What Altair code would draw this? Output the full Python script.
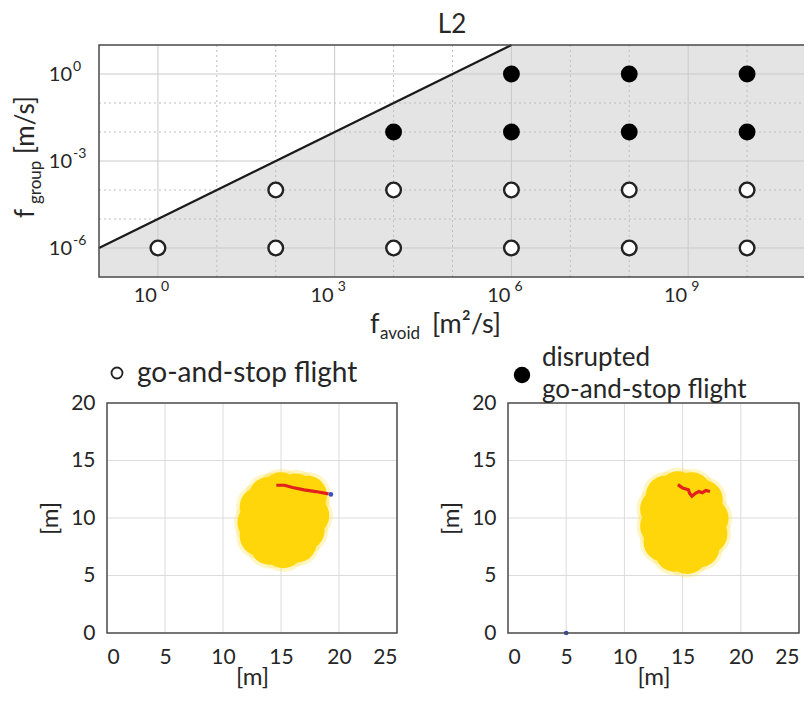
import altair as alt
import pandas as pd

FONT = "Lato"
TXT = "#262626"
W, H = 796, 685

# ---------------- top panel data ----------------
open_favoid = [1e0, 1e2, 1e4, 1e6, 1e8, 1e10, 1e2, 1e4, 1e6, 1e8, 1e10]
open_fgroup = [1e-6, 1e-6, 1e-6, 1e-6, 1e-6, 1e-6, 1e-4, 1e-4, 1e-4, 1e-4, 1e-4]
filled_favoid = [1e4, 1e6, 1e8, 1e10, 1e6, 1e8, 1e10]
filled_fgroup = [1e-2, 1e-2, 1e-2, 1e-2, 1e0, 1e0, 1e0]
line_favoid = [1e-1, 1e6]
line_fgroup = [1e-6, 1e1]
shade_favoid = [1e-1, 1e6, 1e11]
shade_fgroup = [1e-6, 1e1, 1e1]
favoid_domain = [1e-1, 1e11]
fgroup_domain = [1e-7, 1e1]
favoid_major = [1e0, 1e3, 1e6, 1e9]
favoid_minor = [1e1, 1e2, 1e4, 1e5, 1e7, 1e8, 1e10]
fgroup_major = [1e0, 1e-3, 1e-6]
fgroup_minor = [1e-1, 1e-2, 1e-4, 1e-5]
favoid_tick_exp = ["0", "3", "6", "9"]
fgroup_tick_exp = ["0", "-3", "-6"]

# ---------------- bottom panels data ----------------
m_xdomain = [0, 25]
m_ydomain = [0, 20]
m_xticks = [0, 5, 10, 15, 20, 25]
m_yticks = [0, 5, 10, 15, 20]
m_xgrid = [5, 10, 15, 20]
m_ygrid = [5, 10, 15]

left_swarm_x = [15.0, 13.9, 16.3, 17.2, 13.1, 12.9, 13.1, 14.0, 15.2, 16.4, 17.1, 17.5, 14.3, 15.5, 16.2, 14.5, 15.8, 17.3, 14.6]
left_swarm_y = [12.3, 11.9, 12.2, 11.4, 11.0, 9.6, 8.4, 7.6, 7.3, 7.8, 8.9, 10.2, 10.5, 10.0, 11.1, 9.0, 8.8, 12.0, 12.0]
left_path_x = [14.6, 15.3, 16.0, 17.0, 18.0, 19.1]
left_path_y = [12.85, 12.85, 12.65, 12.45, 12.3, 12.1]
left_end_x = [19.3]
left_end_y = [12.05]

right_swarm_x = [14.6, 13.5, 15.8, 16.8, 13.0, 13.0, 13.3, 14.3, 15.4, 16.5, 17.2, 17.3, 14.4, 15.5, 16.1, 14.5, 15.9]
right_swarm_y = [12.4, 12.0, 12.3, 11.6, 10.8, 9.3, 7.9, 7.0, 6.8, 7.4, 8.6, 10.0, 10.2, 9.5, 10.8, 8.5, 8.3]
right_path_x = [14.6, 15.0, 15.5, 15.6, 15.8, 16.1, 16.4, 16.7, 17.0, 17.35]
right_path_y = [12.9, 12.6, 12.45, 12.15, 11.9, 12.15, 12.3, 12.2, 12.4, 12.3]
right_end_x = [5.0]
right_end_y = [0.0]

# ================= top panel =================
xs_top = alt.Scale(type="log", domain=favoid_domain, range=[91, 798], nice=False)
ys_top = alt.Scale(type="log", domain=fgroup_domain, range=[269, 37], nice=False)


def tx(f):
    return alt.X(f, type="quantitative", scale=xs_top, axis=None)


def ty(f):
    return alt.Y(f, type="quantitative", scale=ys_top, axis=None)


shade = alt.Chart(pd.DataFrame({"x": shade_favoid, "y": shade_fgroup,
                                "y2": [fgroup_domain[0]] * len(shade_favoid)})
                  ).mark_area(color="#e4e4e4").encode(x=tx("x"), y=ty("y"), y2="y2:Q")

vmaj = alt.Chart(pd.DataFrame({"x": favoid_major, "lo": fgroup_domain[0], "hi": fgroup_domain[1]})
                 ).mark_rule(color="#c9c9c9", strokeWidth=1).encode(x=tx("x"), y=ty("lo"), y2="hi:Q")
vmin = alt.Chart(pd.DataFrame({"x": favoid_minor, "lo": fgroup_domain[0], "hi": fgroup_domain[1]})
                 ).mark_rule(color="#bdbdbd", strokeWidth=1, strokeDash=[2, 3]).encode(x=tx("x"), y=ty("lo"), y2="hi:Q")
hmaj = alt.Chart(pd.DataFrame({"y": fgroup_major, "lo": favoid_domain[0], "hi": favoid_domain[1]})
                 ).mark_rule(color="#c9c9c9", strokeWidth=1).encode(y=ty("y"), x=tx("lo"), x2="hi:Q")
hmin = alt.Chart(pd.DataFrame({"y": fgroup_minor, "lo": favoid_domain[0], "hi": favoid_domain[1]})
                 ).mark_rule(color="#bdbdbd", strokeWidth=1, strokeDash=[2, 3]).encode(y=ty("y"), x=tx("lo"), x2="hi:Q")

frame_top = alt.Chart(pd.DataFrame({"x": [favoid_domain[0]], "x2": [favoid_domain[1]],
                                    "y": [fgroup_domain[0]], "y2": [fgroup_domain[1]]})
                      ).mark_rect(filled=False, stroke="#4a4a4a", strokeWidth=1.5).encode(
    x=tx("x"), x2="x2:Q", y=ty("y"), y2="y2:Q")

bline = alt.Chart(pd.DataFrame({"x": line_favoid, "y": line_fgroup})
                  ).mark_line(color="#1a1a1a", strokeWidth=2.2).encode(x=tx("x"), y=ty("y"))

open_pts = alt.Chart(pd.DataFrame({"x": open_favoid, "y": open_fgroup})
                     ).mark_point(shape="circle", filled=True, fill="white", stroke="#222222",
                                  strokeWidth=2.4, size=215, opacity=1).encode(x=tx("x"), y=ty("y"))
filled_pts = alt.Chart(pd.DataFrame({"x": filled_favoid, "y": filled_fgroup})
                       ).mark_circle(color="#000000", size=285, opacity=1).encode(x=tx("x"), y=ty("y"))

xl = pd.DataFrame({"x": favoid_major, "e": favoid_tick_exp})
xlab = alt.Chart(xl).mark_text(align="right", baseline="alphabetic", font=FONT, fontSize=20,
                               color=TXT, dx=-1).encode(x=tx("x"), y=alt.value(294), text=alt.value("10"))
xexp = alt.Chart(xl).mark_text(align="left", baseline="alphabetic", font=FONT, fontSize=14,
                               color=TXT, dx=3).encode(x=tx("x"), y=alt.value(283), text="e:N")
yl = pd.DataFrame({"y": fgroup_major, "e": fgroup_tick_exp})
ylab = alt.Chart(yl).mark_text(align="right", baseline="middle", font=FONT, fontSize=20,
                               color=TXT, dy=1).encode(y=ty("y"), x=alt.value(64), text=alt.value("10"))
yexp = alt.Chart(yl).mark_text(align="left", baseline="middle", font=FONT, fontSize=14,
                               color=TXT, dy=-7).encode(y=ty("y"), x=alt.value(65), text="e:N")


def label(txt, x, y, size, angle=0, align="left", baseline="alphabetic", **kw):
    return alt.Chart(pd.DataFrame({"t": [txt]})).mark_text(
        align=align, baseline=baseline, font=FONT, fontSize=size, color=TXT, angle=angle, **kw
    ).encode(x=alt.value(x), y=alt.value(y), text="t:N")


title_l2 = label("L2", 444, 4, 26, align="center", baseline="top")
xt_f = label("f", 362, 325, 27)
xt_sub = label("avoid", 372, 331, 17)
xt_unit = label("[m²/s]", 424, 325, 27)
yt_f = label("f", 26, 210, 26, angle=270)
yt_sub = label("group", 33, 196, 17, angle=270)
yt_unit = label("[m/s]", 26, 146, 26, angle=270)

top = alt.layer(shade, vmin, hmin, vmaj, hmaj, bline, frame_top, open_pts, filled_pts,
                xlab, xexp, ylab, yexp, title_l2, xt_f, xt_sub, xt_unit, yt_f, yt_sub, yt_unit)


# ================= bottom panels =================
def panel(x0, x1, swarm_x, swarm_y, path_x, path_y, end_x, end_y):
    xs = alt.Scale(domain=m_xdomain, range=[x0, x1], nice=False, zero=False)
    ys = alt.Scale(domain=m_ydomain, range=[625, 395], nice=False, zero=False)
    axx = alt.Axis(orient="bottom", offset=-(H - 625), values=m_xticks, grid=False, ticks=False,
                   domain=False, labelFont=FONT, labelFontSize=21, labelColor=TXT, labelPadding=13,
                   title="[m]", titleFont=FONT, titleFontSize=24, titleFontWeight="normal",
                   titleColor=TXT, titlePadding=-2)
    axy = alt.Axis(orient="left", offset=-x0, values=m_yticks, grid=False, ticks=False,
                   domain=False, labelFont=FONT, labelFontSize=21, labelColor=TXT, labelPadding=12,
                   title="[m]", titleFont=FONT, titleFontSize=24, titleFontWeight="normal",
                   titleColor=TXT, titlePadding=8)

    def ex(f):
        return alt.X(f, type="quantitative", scale=xs, axis=axx)

    def ey(f):
        return alt.Y(f, type="quantitative", scale=ys, axis=axy)

    gv = alt.Chart(pd.DataFrame({"x": m_xgrid, "y": m_ydomain[0], "y2": m_ydomain[1]})
                   ).mark_rule(color="#dcdcdc", strokeWidth=1).encode(x=ex("x"), y=ey("y"), y2="y2:Q")
    gh = alt.Chart(pd.DataFrame({"y": m_ygrid, "x": m_xdomain[0], "x2": m_xdomain[1]})
                   ).mark_rule(color="#dcdcdc", strokeWidth=1).encode(y=ey("y"), x=ex("x"), x2="x2:Q")
    sw = pd.DataFrame({"x": swarm_x, "y": swarm_y})
    halo = alt.Chart(sw).mark_circle(color="#ffe24a", size=2100, opacity=0.3).encode(x=ex("x"), y=ey("y"))
    core = alt.Chart(sw).mark_circle(color="#ffd60a", size=1480, opacity=1).encode(x=ex("x"), y=ey("y"))
    path = alt.Chart(pd.DataFrame({"x": path_x, "y": path_y, "o": list(range(len(path_x)))})
                     ).mark_line(color="#e3211c", strokeWidth=3.2).encode(x=ex("x"), y=ey("y"), order="o:Q")
    end = alt.Chart(pd.DataFrame({"x": end_x, "y": end_y})
                    ).mark_circle(color="#3a4fc4", size=22, opacity=1).encode(x=ex("x"), y=ey("y"))
    fr = alt.Chart(pd.DataFrame({"x": [m_xdomain[0]], "x2": [m_xdomain[1]],
                                 "y": [m_ydomain[0]], "y2": [m_ydomain[1]]})
                   ).mark_rect(filled=False, stroke="#4a4a4a", strokeWidth=1.5).encode(
        x=ex("x"), x2="x2:Q", y=ey("y"), y2="y2:Q")
    return [gv, gh, halo, core, path, end, fr]


bl_layers = panel(99, 389, left_swarm_x, left_swarm_y, left_path_x, left_path_y, left_end_x, left_end_y)
br_layers = panel(500, 791, right_swarm_x, right_swarm_y, right_path_x, right_path_y, right_end_x, right_end_y)

leg_open = alt.Chart(pd.DataFrame({"k": [0]})).mark_point(
    shape="circle", filled=True, fill="white", stroke="#222222", strokeWidth=1.8, size=120, opacity=1
).encode(x=alt.value(109), y=alt.value(365))
leg_open_t = label("go-and-stop flight", 129, 374, 28)
leg_fill = alt.Chart(pd.DataFrame({"k": [0]})).mark_circle(color="#000000", size=270, opacity=1
                                                          ).encode(x=alt.value(514), y=alt.value(367))
leg_fill_t = label("disrupted\ngo-and-stop flight", 534, 358, 26, lineBreak="\n", lineHeight=32)

bl = alt.layer(*bl_layers, leg_open, leg_open_t)
br = alt.layer(*br_layers, leg_fill, leg_fill_t)

chart = alt.layer(top, bl, br).resolve_scale(
    x="independent", y="independent"
).resolve_axis(
    x="independent", y="independent"
).properties(
    width=W, height=H, autosize=alt.AutoSizeParams(type="none"), padding=0
).configure_view(stroke=None)

chart.save("out.html", embed_options={"renderer": "svg", "actions": False})
